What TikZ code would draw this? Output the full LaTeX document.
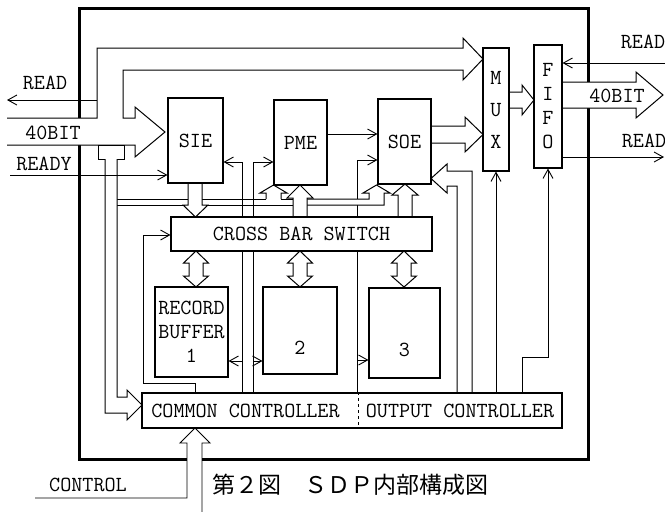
\documentclass[tikz,border=0pt]{standalone}
\usepackage{fontspec}
\newfontfamily\cjk{Noto Sans CJK JP}
\usetikzlibrary{arrows.meta,backgrounds}

\begin{document}
\begin{tikzpicture}[x=1pt,y=-1pt,
  font=\ttfamily\fontsize{21.5}{24}\selectfont,
  box/.style={draw,fill=white,line width=1.1pt,inner sep=0pt,align=center},
  sig/.style={line width=.9pt,-{Straight Barb[length=9pt,width=10pt]}},
  wire/.style={line width=.9pt},
  bus/.style={draw,fill=white,line width=1pt,line join=miter}]
 \useasboundingbox(0,0)rectangle(665,512);
 % processing elements and buffers
 \node[box,minimum width=55pt,minimum height=85pt](sie)at(195.5,140.5){SIE};
 \node[box,minimum width=53pt,minimum height=85pt](pme)at(300.5,142.5){PME};
 \node[box,minimum width=53pt,minimum height=85pt](soe)at(404.5,141.5){SOE};
 \node[box,minimum width=26pt,minimum height=123pt](mux)at(496,109.5){M\\[8pt]U\\[8pt]X};
 \node[box,minimum width=28pt,minimum height=123pt](fifo)at(548,106.5){F\\I\\F\\O};
 \node[box,minimum width=261pt,minimum height=34pt](xbar)at(301.5,234){CROSS BAR SWITCH};
 \node[box,minimum width=73pt,minimum height=90pt](rb1)at(191.5,332){RECORD\\BUFFER\\1};
 \node[box,minimum width=74pt,minimum height=87pt](rb2)at(300,330.5){\mbox{}\\\mbox{}\\2};
 \node[box,minimum width=71pt,minimum height=90pt](rb3)at(404.5,333){\mbox{}\\\mbox{}\\3};
 \node[box,minimum width=420pt,minimum height=35pt](ctrl)at(352,410.5){};
 \node(com)at(245.5,411){COMMON CONTROLLER};
 \node(outc)at(460,411){OUTPUT CONTROLLER};
 \draw[dashed,line width=.8pt](ctrl.north-|358,0)--(ctrl.south-|358,0);
 % signal names
 \node(lread)at(45,83){READ};
 \node(lbit)at(53,133){40BIT};
 \node(lready)at(44,164){READY};
 \node(rread)at(643,42){READ};
 \node(rbit)at(617,96){40BIT};
 \node(rready)at(644,141){READ};
 \node(lctrl)at(88,485){CONTROL};
 \node[font=\cjk\fontsize{23}{26}\selectfont,anchor=west,inner sep=0pt](cap)at(212,485){第２図　ＳＤＰ内部構成図};
 \begin{scope}[on background layer]
  % case of the SDP
  \draw[line width=3pt](79,8)rectangle(588,459);
  \fill[white](187,440)rectangle(202,475);
  % control lines out of the controllers
  \draw[sig](ctrl.north-|242,0)|-(sie.east|-0,162);
  \draw[sig](242,361)--(rb1.east|-0,361);
  \draw[sig](ctrl.north-|253,0)|-(pme.west|-0,162);
  \draw[sig](253,361)--(rb2.west|-0,361);
  \draw[sig](ctrl.north-|357,0)|-(soe.west|-0,160);
  \draw[sig](357,360)--(rb3.west|-0,360);
  \draw[sig](ctrl.north-|195,0)|-(143,383)|-(xbar.west|-0,235);
  \draw[sig](ctrl.north-|496,0)--(mux.south);
  \draw[sig](ctrl.north-|522,0)|-(fifo.south|-0,357)--(fifo.south);
  \draw[sig](pme.east|-0,134)--(soe.west|-0,134);
  \draw[sig](97,100)--(7,100);
  \draw[sig](665,63)--(fifo.east|-0,63);
  \draw[sig](fifo.east|-0,157)--(664,157);
  % thin pair to PME and SOE
  \draw[wire](117,199)--(266,199);
  \draw[wire](281,199)--(293,199);
  \draw[wire](117,205)--(293,205);
  \draw[bus](266,199)--(266,193)--(260,193)--(273.5,185)--(287,193)--(281,193)--(281,199);
  \draw[bus](307,199)--(369,199)--(369,193)--(363,193)--(376.5,185)--(390,193)--(384,193)--(384,205)--(307,205);
  % buses
  \draw[bus](293,217)--(293,198)--(287,198)--(300,185)--(313,198)--(307,198)--(307,217);
  \draw[bus](398,217)--(398,195)--(392,195)--(405,184)--(418,195)--(412,195)--(412,217);
  \draw[bus](188,183)--(188,205)--(183,205)--(195.5,217)--(208,205)--(202,205)--(202,183);
  \foreach \x in {196,300,404}
   \draw[bus](\x,251)--(\x+12.5,263)--(\x+7,263)--(\x+7,276)--(\x+12.5,276)--(\x,287)
    --(\x-12.5,276)--(\x-7,276)--(\x-7,263)--(\x-12.5,263)--cycle;
  \draw[bus](7,118)--(97,118)--(97,48)--(463,48)--(463,38)--(483,59)--(463,80)--(463,70)
   --(123,70)--(123,118)--(135,118)--(135,107)--(165,132)--(135,157)--(135,145)--(7,145);
  \draw[bus](98,145)rectangle(124,159);
  \draw[bus](105,159)--(105,413)--(127,413)--(127,420)--(142,405)--(127,390)--(127,397)--(117,397)--(117,159);
  \draw[bus](431,126)--(465,126)--(465,117)--(483,134.5)--(465,152)--(465,143)--(431,143);
  \draw[bus](509,92)--(522,92)--(522,85)--(534,100)--(522,115)--(522,108)--(509,108);
  \draw[bus](562,82)--(636,82)--(636,72)--(663,95)--(636,118)--(636,108)--(562,108);
  \draw[bus](457,393)--(457,186)--(447,186)--(447,193)--(431,178.5)--(447,164)--(447,171)--(472,171)--(472,393);
  \draw[wire](35,498)--(187,498)--(187,443)--(180,443)--(195,428)--(210,443)--(202,443)--(202,512);
  \draw[sig](10,175)--(sie.west|-0,175);
 \end{scope}
\end{tikzpicture}
\end{document}
